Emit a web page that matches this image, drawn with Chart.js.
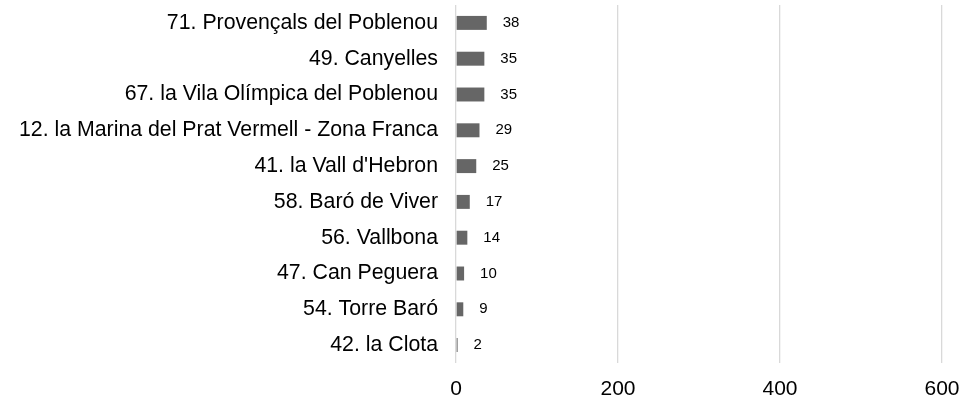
<!DOCTYPE html>
<html>
<head>
<meta charset="utf-8">
<script src="https://cdn.jsdelivr.net/npm/chart.js@4.4.1/dist/chart.umd.min.js"></script>
<style>
  html, body { margin: 0; padding: 0; background: #ffffff; }
  #wrap { width: 961px; height: 400px; position: relative; }
</style>
</head>
<body>
<div id="wrap"><canvas id="barChart"></canvas></div>
<script>
// Dades llegides del gràfic
const categories = [
  '71. Provençals del Poblenou',
  '49. Canyelles',
  '67. la Vila Olímpica del Poblenou',
  '12. la Marina del Prat Vermell - Zona Franca',
  "41. la Vall d'Hebron",
  '58. Baró de Viver',
  '56. Vallbona',
  '47. Can Peguera',
  '54. Torre Baró',
  '42. la Clota'
];
const values = [38, 35, 35, 29, 25, 17, 14, 10, 9, 2];
const xTicks = [0, 200, 400, 600];

const FONT = '"Liberation Sans", Arial, sans-serif';

// etiquetes de valor al final de cada barra
const valueLabels = {
  id: 'valueLabels',
  afterDatasetsDraw(chart) {
    const ctx = chart.ctx;
    const meta = chart.getDatasetMeta(0);
    const xScale = chart.scales.x;
    ctx.save();
    ctx.font = '15px ' + FONT;
    ctx.fillStyle = '#000000';
    ctx.textAlign = 'left';
    ctx.textBaseline = 'middle';
    meta.data.forEach((bar, i) => {
      const x = xScale.getPixelForValue(values[i]) + 16;
      ctx.fillText(String(values[i]), x, bar.y);
    });
    ctx.restore();
  }
};

new Chart(document.getElementById('barChart'), {
  type: 'bar',
  data: {
    labels: categories,
    datasets: [{
      data: values,
      backgroundColor: '#666666',
      borderWidth: 0,
      barPercentage: 0.39,
      categoryPercentage: 1
    }]
  },
  options: {
    indexAxis: 'y',
    responsive: true,
    maintainAspectRatio: false,
    animation: false,
    layout: { padding: { top: 5, right: 19, bottom: 0, left: 0 } },
    plugins: {
      legend: { display: false },
      tooltip: { enabled: false }
    },
    scales: {
      x: {
        min: 0,
        max: 600,
        afterBuildTicks(scale) {
          scale.ticks = xTicks.map(v => ({ value: v }));
        },
        afterFit(scale) {
          scale.height = 37;
          scale.paddingLeft = 0;
          scale.paddingRight = 0;
        },
        grid: { color: '#d9d9d9', lineWidth: 1.3, drawTicks: false },
        border: { display: false },
        ticks: {
          padding: 16,
          maxRotation: 0,
          color: '#000000',
          font: { family: FONT, size: 21, lineHeight: 1.0 }
        }
      },
      y: {
        grid: { display: false, drawTicks: false },
        border: { display: false },
        afterFit(scale) {
          scale.width = 456;
          scale.paddingTop = 0;
          scale.paddingBottom = 0;
        },
        ticks: {
          autoSkip: false,
          padding: 18,
          color: '#000000',
          font: { family: FONT, size: 21.3 }
        }
      }
    }
  },
  plugins: [valueLabels]
});
</script>
</body>
</html>
